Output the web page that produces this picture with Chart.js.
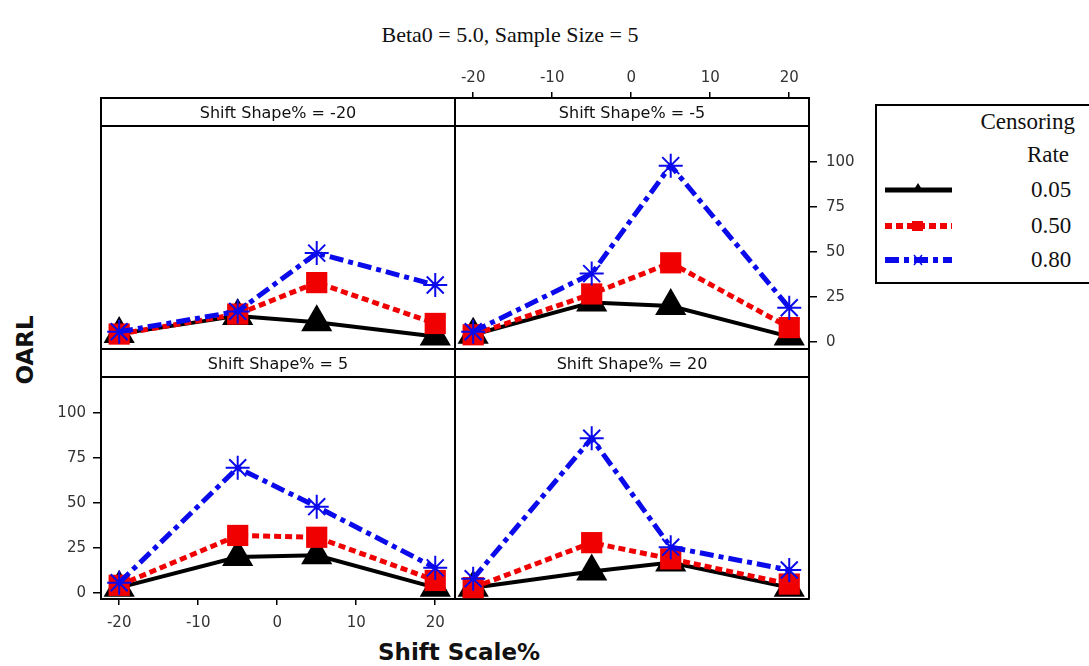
<!DOCTYPE html>
<html>
<head>
<meta charset="utf-8">
<script src="https://cdn.jsdelivr.net/npm/chart.js@4/dist/chart.umd.min.js"></script>
<style>
  body { margin: 0; width: 1089px; height: 666px; overflow: hidden; position: relative; background: #fff; }
  canvas { position: absolute; }
  .strip { position: absolute; height: 26px; border-bottom: 2px solid #000; text-align: center;
           font: 16px "DejaVu Sans", sans-serif; line-height: 28px; color: #111; z-index: 2; }
  .serif { position: absolute; font-family: "Liberation Serif", serif; color: #111; white-space: nowrap; }
  .bold { position: absolute; font: bold 23px "DejaVu Sans", sans-serif; color: #111; white-space: nowrap; }
  #legend { position: absolute; left: 875px; top: 104px; width: 240px; height: 176px; border: 2px solid #000; }
</style>
</head>
<body>

<div class="serif" style="left:0;top:22px;width:1020px;text-align:center;font-size:22px;line-height:26px">Beta0 = 5.0, Sample Size = 5</div>
<div class="bold" style="left:0;top:638px;width:918px;text-align:center;line-height:28px">Shift Scale%</div>
<div class="bold" style="left:25px;top:350px;transform:translate(-50%,-50%) rotate(-90deg);line-height:28px">OARL</div>

<div id="legend"></div>
<div class="serif" style="left:975px;top:108px;width:100px;text-align:right;font-size:23px;line-height:28px">Censoring</div>
<div class="serif" style="left:1008px;top:141px;width:80px;text-align:center;font-size:23px;line-height:28px">Rate</div>
<div id="legendRows"></div>

<script>
// OARL by shift in scale (x) for each shape-shift panel and censoring rate
const shiftScale = [-20, -5, 5, 20];
const shapeLabels = ['Shift Shape% = -20', 'Shift Shape% = -5', 'Shift Shape% = 5', 'Shift Shape% = 20'];
const oarl005 = [[4.5, 14.5, 11, 3], [4, 22, 20, 3], [3, 20, 21, 3], [3, 12, 17, 3]];
const oarl050 = [[4.4, 15.5, 33, 10.3], [4, 26.7, 44, 8], [4.3, 32, 31, 7], [3, 28, 19, 5]];
const oarl080 = [[5.7, 17, 49.4, 31.7], [5.7, 38, 98, 19], [5.7, 69.6, 48, 14], [8, 86, 25.5, 12.8]];
const xTickVals = [-20, -10, 0, 10, 20];
const yTickVals = [0, 25, 50, 75, 100];
const rateLabels = ['0.05', '0.50', '0.80'];

const M = 60; // room around each panel for the axes
const panels = [
  { left: 101, top: 98,  w: 354, h: 251, yMin: -3.9, ticks: [] },
  { left: 455, top: 98,  w: 354, h: 251, yMin: -3.9, ticks: ['top', 'right'] },
  { left: 101, top: 349, w: 354, h: 250, yMin: -3.3, ticks: ['bottom', 'left'] },
  { left: 455, top: 349, w: 354, h: 250, yMin: -3.3, ticks: [] }
];

const series = [
  { data: oarl005, color: '#000', width: 4, dash: [], style: 'triangle', radius: 18, order: 3 },
  { data: oarl050, color: 'rgb(240,0,0)', width: 5, dash: [7, 4], style: 'rect', radius: 15, order: 2 },
  { data: oarl080, color: 'rgb(10,10,235)', width: 5, dash: [14, 5, 5, 5], style: 'star', radius: 12, order: 1 }
];

function axis(pos, show, min, max, vals) {
  const horiz = pos === 'top' || pos === 'bottom';
  const pad = { top: 5, bottom: 9, left: 7, right: 9 }[pos];
  return {
    type: 'linear', position: pos, min: min, max: max,
    afterBuildTicks: s => { s.ticks = vals.map(v => ({ value: v })); },
    afterFit: s => { if (horiz) s.height = M; else s.width = M; },
    border: { display: true, color: '#000', width: 2 },
    grid: { display: show, drawOnChartArea: false, drawTicks: true, tickLength: horiz ? 6 : 8, color: '#000', lineWidth: 1.5 },
    ticks: { display: show, autoSkip: false, maxRotation: 0, padding: pad, color: '#333',
             font: { family: 'DejaVu Sans', size: 15 } }
  };
}

panels.forEach((p, k) => {
  const cv = document.createElement('canvas');
  cv.width = p.w + 2 * M;
  cv.height = p.h + 2 * M;
  cv.style.left = (p.left - M) + 'px';
  cv.style.top = (p.top - M) + 'px';
  document.body.appendChild(cv);

  const strip = document.createElement('div');
  strip.className = 'strip';
  strip.style.left = (p.left + 1) + 'px';
  strip.style.top = (p.top + 1) + 'px';
  strip.style.width = (p.w - 2) + 'px';
  strip.textContent = shapeLabels[k];
  document.body.appendChild(strip);

  const xMin = -22.3, xMax = 22.5, yMax = 135.6;
  new Chart(cv, {
    type: 'line',
    data: {
      datasets: series.map((s, i) => ({
        label: rateLabels[i],
        data: shiftScale.map((x, j) => ({ x: x, y: s.data[k][j] })),
        borderColor: s.color,
        backgroundColor: s.color,
        borderWidth: s.width,
        borderDash: s.dash,
        pointStyle: s.style,
        pointRadius: s.radius,
        pointBackgroundColor: s.color,
        pointBorderColor: s.color,
        pointBorderWidth: s.style === 'star' ? 2 : 0,
        tension: 0,
        order: s.order,
        clip: false
      }))
    },
    options: {
      responsive: false,
      animation: false,
      events: [],
      layout: { padding: 0 },
      plugins: { legend: { display: false }, tooltip: { enabled: false } },
      scales: {
        x: axis('bottom', p.ticks.includes('bottom'), xMin, xMax, xTickVals),
        xTop: axis('top', p.ticks.includes('top'), xMin, xMax, xTickVals),
        y: axis('left', p.ticks.includes('left'), p.yMin, yMax, yTickVals),
        yRight: axis('right', p.ticks.includes('right'), p.yMin, yMax, yTickVals)
      }
    }
  });
});

// legend rows: line sample + rate
const rowY = [190, 226, 260];
const rows = document.getElementById('legendRows');
let svg = '<svg style="position:absolute;left:880px;top:170px" width="80" height="110">';
series.forEach((s, i) => {
  const y = rowY[i] - 170;
  svg += `<line x1="5" x2="72" y1="${y}" y2="${y}" stroke="${s.color}" stroke-width="${s.width + 1}" stroke-dasharray="${s.dash.join(' ') || 'none'}"/>`;
  if (s.style === 'triangle') svg += `<polygon points="38,${y - 7} 33,${y + 1} 43,${y + 1}" fill="${s.color}"/>`;
  if (s.style === 'rect') svg += `<rect x="32" y="${y - 5}" width="11" height="10" fill="${s.color}"/>`;
  if (s.style === 'star') svg += `<path d="M34 ${y - 5} L42 ${y + 5} M42 ${y - 5} L34 ${y + 5}" stroke="${s.color}" stroke-width="1.5"/>`;
});
svg += '</svg>';
rows.innerHTML = svg;
rateLabels.forEach((r, i) => {
  const d = document.createElement('div');
  d.className = 'serif';
  d.style.cssText = `left:1020px;top:${rowY[i] - 14}px;width:62px;text-align:center;font-size:23px;line-height:28px`;
  d.textContent = r;
  rows.appendChild(d);
});
</script>
</body>
</html>
